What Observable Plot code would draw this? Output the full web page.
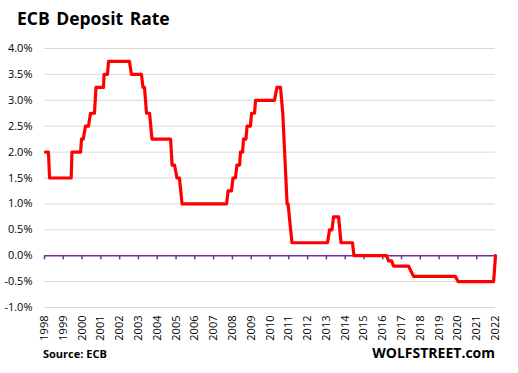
<!DOCTYPE html>
<html>
<head>
<meta charset="utf-8">
<script src="https://cdn.jsdelivr.net/npm/d3@7"></script>
<script src="https://cdn.jsdelivr.net/npm/@observablehq/plot@0.6"></script>
<style>
  html, body { margin: 0; padding: 0; background: #fff; }
  #wrap { position: relative; width: 518px; height: 373px; font-family: "Open Sans", sans-serif; }
  #title { position: absolute; left: 17px; top: 6px; font-size: 17.5px; font-weight: 700; color: #000; letter-spacing: 0; word-spacing: 2px; white-space: nowrap; }
  #source { position: absolute; left: 43px; top: 346px; font-size: 11px; font-weight: 700; color: #000; white-space: nowrap; }
  #brand { position: absolute; right: 23px; top: 343px; font-size: 14px; font-weight: 700; color: #000; white-space: nowrap; }
  #chart { position: absolute; left: 0; top: 0; }
</style>
</head>
<body>
<div id="wrap">
  <div id="chart"></div>
  <div id="title">ECB Deposit Rate</div>
  <div id="source">Source: ECB</div>
  <div id="brand">WOLFSTREET.com</div>
</div>
<script>
// Deposit rate path (decimal year, percent)
const dates = [
  1998.05, 1998.21, 1998.27, 1999.42, 1999.46, 1999.92, 1999.97, 2000.06,
  2000.18, 2000.34, 2000.45, 2000.66, 2000.74, 2001.14, 2001.17, 2001.35,
  2001.41, 2002.52, 2002.63, 2003.16, 2003.24, 2003.32, 2003.43, 2003.59,
  2003.72, 2004.71, 2004.79, 2004.92, 2005.05, 2005.18, 2005.32, 2007.69,
  2007.77, 2007.95, 2008.03, 2008.16, 2008.24, 2008.38, 2008.43, 2008.54,
  2008.59, 2008.72, 2008.78, 2008.96, 2009.02, 2009.18, 2009.23, 2010.24,
  2010.37, 2010.56, 2010.68, 2010.91, 2010.96, 2011.17, 2013.06, 2013.17,
  2013.30, 2013.38, 2013.65, 2013.78, 2014.39, 2014.47, 2016.20, 2016.31,
  2016.47, 2016.57, 2017.37, 2017.64, 2019.87, 2020.01, 2021.90, 2022.00
];
const rates = [
  2.00, 2.00, 1.50, 1.50, 2.00, 2.00, 2.25, 2.25,
  2.50, 2.50, 2.75, 2.75, 3.25, 3.25, 3.50, 3.50,
  3.75, 3.75, 3.50, 3.50, 3.25, 3.25, 2.75, 2.75,
  2.25, 2.25, 1.75, 1.75, 1.50, 1.50, 1.00, 1.00,
  1.25, 1.25, 1.50, 1.50, 1.75, 1.75, 2.00, 2.00,
  2.25, 2.25, 2.50, 2.50, 2.75, 2.75, 3.00, 3.00,
  3.25, 3.25, 2.75, 1.00, 1.00, 0.25, 0.25, 0.50,
  0.50, 0.75, 0.75, 0.25, 0.25, 0.00, 0.00, -0.10,
  -0.10, -0.20, -0.20, -0.40, -0.40, -0.50, -0.50, 0.00
];
const years = d3.range(1998, 2023);
const yTicks = [-1, -0.5, 0, 0.5, 1, 1.5, 2, 2.5, 3, 3.5, 4];

const data = dates.map((d, i) => ({date: d, rate: rates[i]}));

const chart = Plot.plot({
  width: 518,
  height: 373,
  marginTop: 48,
  marginBottom: 66,
  marginLeft: 44,
  marginRight: 23,
  style: {fontFamily: "'Open Sans', sans-serif", fontSize: "11px", color: "#000", background: "#fff"},
  x: {domain: [1998, 2022], ticks: years, tickFormat: d => String(d)},
  y: {domain: [-1, 4], ticks: yTicks, tickFormat: d => d.toFixed(1) + "%"},
  marks: [
    Plot.ruleY(yTicks.filter(d => d !== 0), {stroke: "#d9d9d9", strokeWidth: 1}),
    Plot.axisY({ticks: yTicks, tickSize: 0, tickPadding: 12, tickFormat: d => d.toFixed(1) + "%", label: null, fill: "#000"}),
    Plot.axisX({ticks: years, tickSize: 0, tickPadding: 8, tickRotate: -90, tickFormat: d => String(d), label: null, fill: "#000"}),
    Plot.ruleY([0], {stroke: "#7030a0", strokeWidth: 1.5}),
    Plot.ruleX(years, {x: d => d, y1: 0, y2: -0.08, stroke: "#7030a0", strokeWidth: 1.5}),
    Plot.line(data, {x: "date", y: "rate", stroke: "#ff0000", strokeWidth: 3.2, strokeLinejoin: "round", strokeLinecap: "round"})
  ]
});
document.getElementById("chart").appendChild(chart);
</script>
</body>
</html>
